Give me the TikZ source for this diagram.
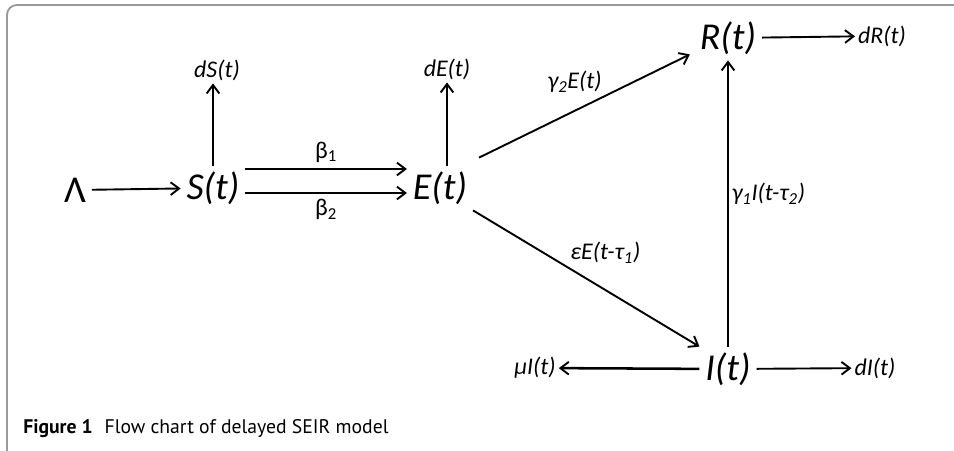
\documentclass[tikz,border=0pt]{standalone}
\usepackage{fontspec}
\setmainfont{Carlito}
\newfontfamily\capfont{PT Sans}
\usetikzlibrary{arrows.meta,positioning}
\begin{document}
\begin{tikzpicture}[x=0.025cm, y=-0.025cm,
        state/.style={inner sep=4pt, font=\fontsize{27}{32}\selectfont\itshape},
        rate/.style={inner sep=2pt, font=\fontsize{17}{20}\selectfont\itshape},
        flow/.style={line width=1.35pt, -{Straight Barb[length=6pt, width=9pt, line width=1.35pt]}},
        frame/.style={draw=gray!80, line width=1.3pt, rounded corners=7pt}
    ]
    \useasboundingbox (0,0) rectangle (954,450);
    \draw[frame] (7,452) -- (7,5) -- (960,5);

    \node[state, font=\fontsize{27}{32}\selectfont] (lam) at (75,190) {Λ};
    \node[state] (S) at (213,188) {S(t)};
    \node[state] (E) at (440,188) {E(t)};
    \node[state] (R) at (728,38) {R(t)};
    \node[state] (I) at (728,369) {I(t)};
    \node[rate] (dS) at (217,70) {dS(t)};
    \node[rate] (dE) at (447,69) {dE(t)};
    \node[rate] (dR) at (882,36) {dR(t)};
    \node[rate] (dI) at (875,368) {dI(t)};
    \node[rate] (muI) at (535,368) {μI(t)};

    \draw[flow] (lam) -- (S);
    \draw[flow] (S.north) -- (S.north |- dS.south);
    \draw[flow] (dE.south |- E.north) -- (dE.south);
    \draw[flow] ([shift={(0,-19)}]S.east) -- node[rate, above=2pt, font=\fontsize{17}{20}\selectfont] {β\textsubscript{1}} ([shift={(0,-19)}]E.west);
    \draw[flow] ([shift={(0,5)}]S.east) -- node[rate, below=2pt, font=\fontsize{17}{20}\selectfont] {β\textsubscript{2}} ([shift={(0,5)}]E.west);
    \draw[flow] ([shift={(6,-8)}]E.north east) -- node[rate, above=7pt, xshift=-7pt] {γ\textsubscript{2}E(t)} ([shift={(-4,-6)}]R.south west);
    \draw[flow] (E.south east) -- node[rate, above right=8pt and -14pt] {εE(t-τ\textsubscript{1})} (I.north west);
    \draw[flow] (I) -- node[rate, right=0pt, yshift=7pt] {γ\textsubscript{1}I(t-τ\textsubscript{2})} (R);
    \draw[flow] (R) -- (dR);
    \draw[flow] (I) -- (dI);
    \draw[flow, line width=1.8pt] (I) -- (muI);

    \node[anchor=base west, inner sep=0pt, font=\capfont\fontsize{14}{17}\selectfont] (cap) at (23,433) {\textbf{Figure 1}\hspace{0.6em}Flow chart of delayed SEIR model};
\end{tikzpicture}
\end{document}
